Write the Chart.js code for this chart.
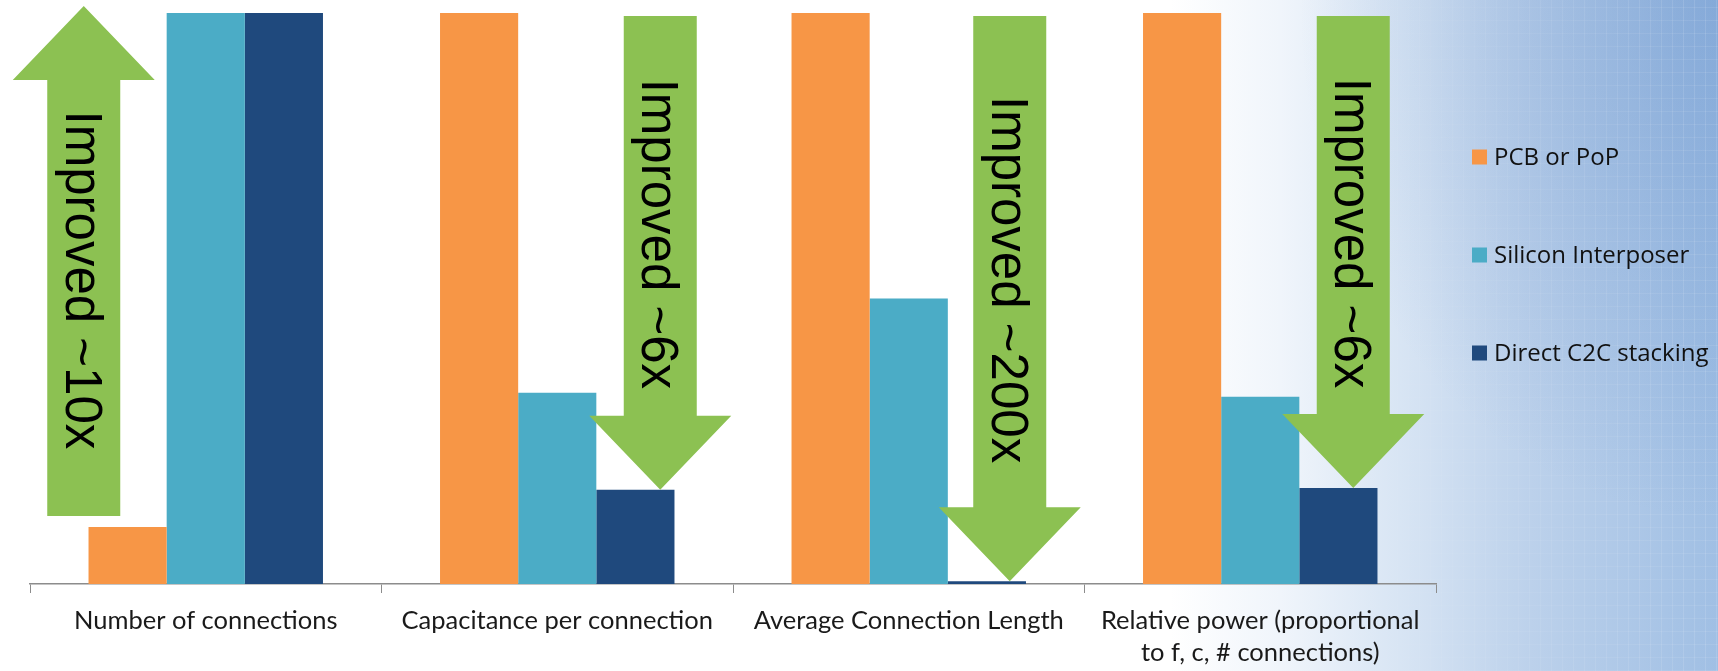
<!DOCTYPE html>
<html>
<head>
<meta charset="utf-8">
<script src="https://cdn.jsdelivr.net/npm/chart.js@4.4.1/dist/chart.umd.min.js"></script>
<style>
  html, body { margin: 0; padding: 0; width: 1718px; height: 671px; overflow: hidden; }
  body {
    background:
      radial-gradient(ellipse 420px 520px at 100% 0%, rgba(70, 120, 190, 0.30), rgba(70, 120, 190, 0) 100%),
      linear-gradient(to right, #ffffff 0px, #ffffff 1170px, #f0f5fb 1280px, #d8e5f4 1400px, #bcd1eb 1530px, #a0bfe4 1718px);
  }
  #wrap { position: relative; width: 1718px; height: 671px; }
  #wrap::before {
    content: ""; position: absolute; inset: 0; pointer-events: none;
    background:
      repeating-linear-gradient(90deg, rgba(255,255,255,0.12) 0 1px, rgba(255,255,255,0) 1px 11px),
      repeating-linear-gradient(0deg, rgba(255,255,255,0.09) 0 1px, rgba(255,255,255,0) 1px 13px);
    -webkit-mask-image: linear-gradient(to right, transparent 1280px, #000 1718px);
    mask-image: linear-gradient(to right, transparent 1280px, #000 1718px);
  }
  canvas { position: absolute; left: 0; top: 0; }
</style>
</head>
<body>
<div id="wrap"><canvas id="chart" width="1718" height="671"></canvas></div>
<script>
// Categories along the x axis (the last one wraps onto two lines)
const categories = [
  'Number of connections',
  'Capacitance per connection',
  'Average Connection Length',
  ['Relative power (proportional', 'to f, c, # connections)']
];

// Series names and relative values (largest = 100)
const seriesNames = ['PCB or PoP', 'Silicon Interposer', 'Direct C2C stacking'];
const pcbValues = [10, 100, 100, 100];
const interposerValues = [100, 33.5, 50, 32.8];
const c2cValues = [100, 16.5, 0.5, 16.8];

// Improvement callouts, one per category
const improvementLabels = ['Improved ~10x', 'Improved ~6x', 'Improved ~200x', 'Improved ~6x'];

const seriesColors = ['#F79646', '#4BACC6', '#1F497D'];

// Green block arrows with rotated captions, from the PCB bar level to the C2C bar level
const improvementArrows = {
  id: 'improvementArrows',
  afterDatasetsDraw(chart) {
    const { ctx, scales: { x, y } } = chart;
    const shaft = 73, headW = 142, headLen = 74;
    const xOffsets = [-122, 103, 101, 93];
    ctx.save();
    improvementLabels.forEach((label, i) => {
      const cx = x.getPixelForValue(i) + xOffsets[i];
      const up = c2cValues[i] > pcbValues[i];
      let yStart, tip;
      if (up) {
        yStart = y.getPixelForValue(pcbValues[i]) - 11;
        tip = y.getPixelForValue(c2cValues[i]) - 7;
      } else {
        yStart = y.getPixelForValue(pcbValues[i]) + 3;
        tip = y.getPixelForValue(c2cValues[i]);
      }
      const dir = up ? -1 : 1;
      const headBase = tip - dir * headLen;
      ctx.fillStyle = '#8CC152';
      ctx.beginPath();
      ctx.moveTo(cx - shaft / 2, yStart);
      ctx.lineTo(cx - shaft / 2, headBase);
      ctx.lineTo(cx - headW / 2, headBase);
      ctx.lineTo(cx, tip);
      ctx.lineTo(cx + headW / 2, headBase);
      ctx.lineTo(cx + shaft / 2, headBase);
      ctx.lineTo(cx + shaft / 2, yStart);
      ctx.closePath();
      ctx.fill();

      const textCenter = (yStart + headBase) / 2 + dir * 18;
      ctx.save();
      ctx.translate(cx - 18, textCenter);
      ctx.rotate(Math.PI / 2);
      ctx.fillStyle = '#000000';
      ctx.font = '51px "Liberation Sans", Arial, sans-serif';
      ctx.textAlign = 'center';
      ctx.textBaseline = 'alphabetic';
      ctx.fillText(label, 0, 0);
      ctx.restore();
    });
    ctx.restore();
  }
};

// Legend on the right: coloured squares with widely spaced labels
const sideLegend = {
  id: 'sideLegend',
  afterDraw(chart) {
    const { ctx } = chart;
    const left = chart.chartArea.right + 36;
    const top = 157, step = 98, box = 15;
    ctx.save();
    ctx.font = '24px "Open Sans", sans-serif';
    ctx.textBaseline = 'middle';
    ctx.textAlign = 'left';
    chart.data.datasets.forEach((ds, i) => {
      const cy = top + i * step;
      ctx.fillStyle = ds.backgroundColor;
      ctx.fillRect(left, cy - box / 2, box, box);
      ctx.fillStyle = '#111111';
      ctx.fillText(ds.label, left + box + 7, cy + 1);
    });
    ctx.restore();
  }
};

function build() {
  new Chart(document.getElementById('chart'), {
    type: 'bar',
    data: {
      labels: categories,
      datasets: [
        { label: seriesNames[0], data: pcbValues, backgroundColor: seriesColors[0] },
        { label: seriesNames[1], data: interposerValues, backgroundColor: seriesColors[1] },
        { label: seriesNames[2], data: c2cValues, backgroundColor: seriesColors[2] }
      ]
    },
    options: {
      responsive: false,
      animation: false,
      events: [],
      layout: { padding: { top: 13, left: 30, right: 282, bottom: 0 } },
      datasets: { bar: { barPercentage: 1, categoryPercentage: 0.667, borderWidth: 0 } },
      plugins: { legend: { display: false }, tooltip: { enabled: false } },
      scales: {
        x: {
          grid: { display: true, drawOnChartArea: false, drawTicks: true, tickLength: 9, color: '#8c8c8c', lineWidth: 1, offset: true },
          border: { display: true, color: '#8c8c8c', width: 1.5 },
          ticks: {
            color: '#1a1a1a', padding: 12, maxRotation: 0, autoSkip: false,
            font: { family: 'Lato', size: 25.5, lineHeight: 1.26 }
          },
          afterFit(scale) { scale.height = 87; }
        },
        y: { display: false, min: 0, max: 100 }
      }
    },
    plugins: [improvementArrows, sideLegend]
  });
}

Promise.all([
  document.fonts.load('25.5px Lato'),
  document.fonts.load('24px "Open Sans"'),
  document.fonts.load('51px "Liberation Sans"')
]).then(build, build);
</script>
</body>
</html>
